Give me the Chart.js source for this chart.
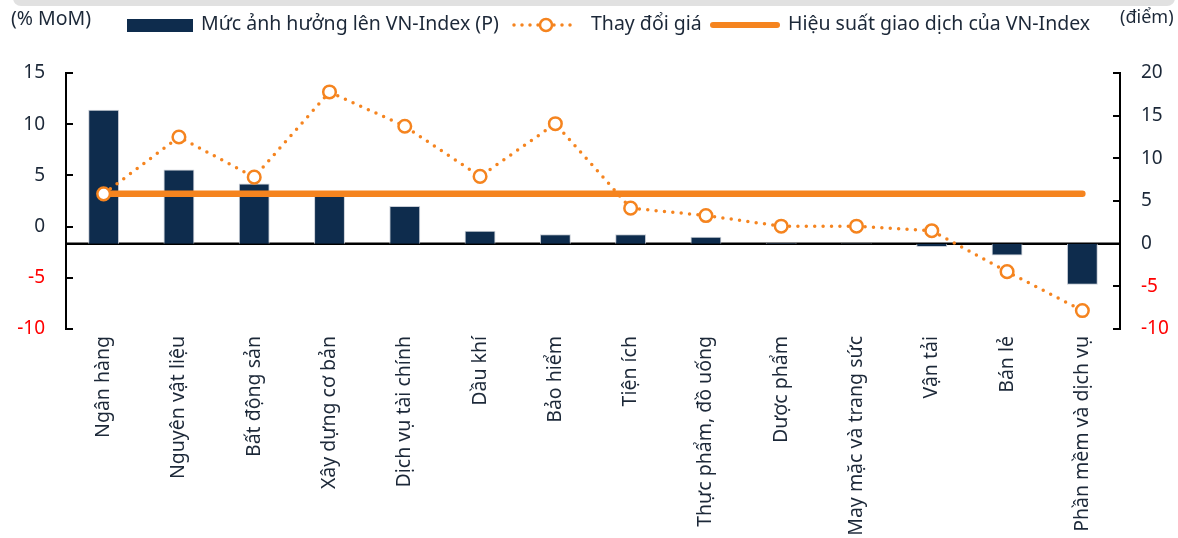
<!DOCTYPE html>
<html>
<head>
<meta charset="utf-8">
<script src="https://cdn.jsdelivr.net/npm/chart.js@4.4.1/dist/chart.umd.min.js"></script>
<style>
  html, body { margin: 0; padding: 0; background: #fff; }
  body { width: 1178px; height: 538px; position: relative; overflow: hidden; font-family: "Noto Sans", "Open Sans", sans-serif; color: #1c2838; }
  #wrap { position: absolute; left: 0; top: 0; width: 1178px; height: 538px; }
  .topband { position: absolute; left: 13px; top: -10px; width: 1162px; height: 16px; background: #e1e1e1; border-radius: 9px; }
  .lbl { position: absolute; font-size: 19.5px; white-space: nowrap; line-height: 1; }
  .sw { position: absolute; }
</style>
</head>
<body>
<div class="topband"></div>
<div id="wrap"><canvas id="c" width="1178" height="538"></canvas></div>
<div class="lbl" style="left:11px; top:8px;">(% MoM)</div>
<div class="lbl" style="left:1120px; top:7px; font-size:18px;">(điểm)</div>
<div class="sw" style="left:127px; top:19px; width:66px; height:13px; background:#0e2c4d;"></div>
<div class="lbl" id="t1" style="left:201px; top:13px;">Mức ảnh hưởng lên VN-Index (P)</div>
<svg class="sw" style="left:510px; top:15px;" width="72" height="20">
  <line x1="4" y1="10" x2="68" y2="10" stroke="#f5841f" stroke-width="3.5" stroke-linecap="round" stroke-dasharray="0 8"/>
  <circle cx="36" cy="10" r="6" fill="#fff" stroke="#f5841f" stroke-width="2.5"/>
</svg>
<div class="lbl" id="t2" style="left:591px; top:13px;">Thay đổi giá</div>
<div class="sw" style="left:710px; top:22px; width:70px; height:6px; background:#f5841f; border-radius:3px;"></div>
<div class="lbl" id="t3" style="left:788px; top:13px;">Hiệu suất giao dịch của VN-Index</div>
<script>
const categories = ["Ngân hàng","Nguyên vật liệu","Bất động sản","Xây dựng cơ bản","Dịch vụ tài chính","Dầu khí","Bảo hiểm","Tiện ích","Thực phẩm, đồ uống","Dược phẩm","May mặc và trang sức","Vận tải","Bán lẻ","Phần mềm và dịch vụ"];
// Mức ảnh hưởng lên VN-Index (điểm) - right axis
const impactPoints = [15.7, 8.7, 7.05, 5.6, 4.4, 1.5, 1.1, 1.1, 0.8, 0.1, 0.05, -0.4, -1.4, -4.8];
// Thay đổi giá (% MoM) - left axis
const priceChange = [3.2, 8.75, 4.83, 13.15, 9.8, 4.9, 10.05, 1.8, 1.08, 0.04, 0.04, -0.4, -4.4, -8.2];
// Hiệu suất giao dịch của VN-Index (% MoM)
const vnIndexPerf = 3.2;
const vnIndexLine = categories.map(() => vnIndexPerf);
const leftTicks = { min: -10, max: 15, step: 5 };
const rightTicks = { min: -10, max: 20, step: 5 };

const NAVY = '#0e2c4d';
const ORANGE = '#f5841f';
const TEXT = '#1c2838';
const FONT = '"Noto Sans", "Open Sans", sans-serif';

const innerTicks = {
  id: 'innerTicks',
  beforeDatasetsDraw(chart) {
    const ctx = chart.ctx, a = chart.chartArea;
    const y0 = chart.scales.y1.getPixelForValue(0);
    ctx.save();
    ctx.strokeStyle = '#000';
    ctx.lineWidth = 2.5;
    ctx.beginPath();
    ctx.moveTo(a.left, y0);
    ctx.lineTo(a.right, y0);
    ctx.stroke();
    ctx.restore();
  },
  afterDraw(chart) {
    const ctx = chart.ctx, a = chart.chartArea;
    ctx.save();
    ctx.strokeStyle = '#000';
    ctx.lineWidth = 2;
    const ys = chart.scales.y, yr = chart.scales.y1;
    ys.ticks.forEach(t => {
      const p = Math.round(ys.getPixelForValue(t.value));
      ctx.beginPath(); ctx.moveTo(a.left, p); ctx.lineTo(a.left + 7, p); ctx.stroke();
    });
    yr.ticks.forEach(t => {
      const p = Math.round(yr.getPixelForValue(t.value));
      ctx.beginPath(); ctx.moveTo(a.right, p); ctx.lineTo(a.right - 7, p); ctx.stroke();
    });
    ctx.restore();
  }
};

new Chart(document.getElementById('c'), {
  data: {
    labels: categories,
    datasets: [
      {
        type: 'line', label: 'Thay đổi giá', data: priceChange, yAxisID: 'y', order: 1,
        borderColor: ORANGE, borderWidth: 3.5, borderDash: [0, 8.4], borderCapStyle: 'round',
        pointRadius: 6.3, pointBorderWidth: 2.5, pointBackgroundColor: '#fff', pointBorderColor: ORANGE,
        tension: 0, fill: false
      },
      {
        type: 'line', label: 'Hiệu suất giao dịch của VN-Index', data: vnIndexLine, yAxisID: 'y', order: 2,
        borderColor: ORANGE, borderWidth: 6.5, borderCapStyle: 'round', pointRadius: 0, fill: false
      },
      {
        type: 'bar', label: 'Mức ảnh hưởng lên VN-Index (P)', data: impactPoints, yAxisID: 'y1', order: 3,
        backgroundColor: NAVY, borderColor: '#c9ced6', borderWidth: 1,
        categoryPercentage: 1, barPercentage: 0.41
      }
    ]
  },
  options: {
    responsive: false, animation: false, devicePixelRatio: 1,
    layout: { padding: { top: 73, left: 0, right: 0, bottom: 0 } },
    plugins: { legend: { display: false }, tooltip: { enabled: false } },
    scales: {
      x: {
        offset: true,
        grid: { display: false, drawTicks: false },
        border: { display: false },
        ticks: { minRotation: 90, maxRotation: 90, autoSkip: false, padding: 7, color: TEXT, font: { family: FONT, size: 19.5 } },
        afterFit(s) { s.height = 209; }
      },
      y: {
        position: 'left', min: leftTicks.min, max: leftTicks.max,
        grid: { display: false, drawTicks: false },
        border: { display: true, color: '#000', width: 2 },
        ticks: { stepSize: leftTicks.step, padding: 21, font: { family: FONT, size: 19 },
                 color: c => (c.tick && c.tick.value < 0) ? '#ff0000' : TEXT },
        afterFit(s) { s.width = 66; }
      },
      y1: {
        position: 'right', min: rightTicks.min, max: rightTicks.max,
        grid: { display: false, drawTicks: false },
        border: { display: true, color: '#000', width: 2 },
        ticks: { stepSize: rightTicks.step, padding: 21, font: { family: FONT, size: 19 },
                 color: c => (c.tick && c.tick.value < 0) ? '#ff0000' : TEXT },
        afterFit(s) { s.width = 58; }
      }
    }
  },
  plugins: [innerTicks]
});
</script>
</body>
</html>
